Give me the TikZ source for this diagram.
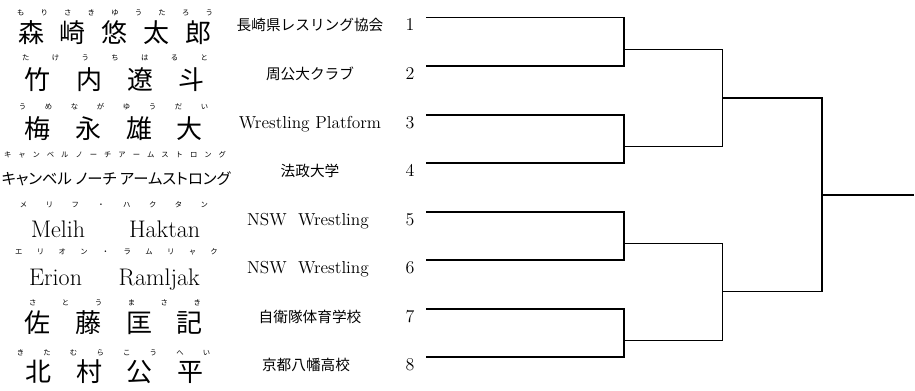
\documentclass[tikz,border=0pt]{standalone}
\usepackage{fontspec}
\newfontfamily\jpfont{Noto Sans CJK JP}
\newfontfamily\jpprop[RawFeature=+palt]{Noto Sans CJK JP}

% spread the letters of #2 over a box of width #1
\newcommand\spread[2]{\makebox[#1][s]{\spreadloop#2\relax}}
\def\spreadloop#1#2{#1\ifx\relax#2\expandafter\spreadgobble\else\hfill\expandafter\spreadloop\fi#2}
\def\spreadgobble#1{}

\begin{document}
\begin{tikzpicture}[
    x = 0.75pt, % one pixel
    y = -0.75pt,
    line width = 1pt, % bracket lines
    inner sep = 0pt
    ]

    \tikzset{
    ruby/.style = {font=\jpfont\fontsize{5.5}{6}\selectfont},
    kanji/.style = {font=\jpfont\fontsize{19.5}{22}\selectfont},
    kana/.style = {font=\jpprop\fontsize{11.5}{13}\selectfont},
    latin/.style = {font=\fontsize{18}{21}\selectfont, anchor=base},
    team/.style = {font=\jpfont\fontsize{11}{13}\selectfont, anchor=base},
    teamlatin/.style = {font=\fontsize{13}{15}\selectfont, anchor=base},
    seed/.style = {font=\fontsize{13.5}{15}\selectfont, anchor=base}
    }
    \useasboundingbox (0,0) rectangle (915,390);

    % players
    \node[ruby] (r1) at (115,13) {\spread{147pt}{もりさきゆうたろう}};
    \node[kanji] (p1) at (115,33) {\spread{145.5pt}{森崎悠太郎}};
    \node[ruby] (r2) at (115,58) {\spread{139.5pt}{たけうちはると}};
    \node[kanji] (p2) at (115,80) {\spread{135pt}{竹内遼斗}};
    \node[ruby] (r3) at (113.5,107) {\spread{142pt}{うめながゆうだい}};
    \node[kanji] (p3) at (114,129) {\spread{133.5pt}{梅永雄大}};
    \node[ruby] (r4) at (115,155) {\spread{166.5pt}{キャンベルノーチアームストロング}};
    \node[kana] (p4) at (116,179) {キャンベル ノーチ アームストロング};
    \node[ruby] (r5) at (114,205) {\spread{141pt}{メリフ・ハクタン}};
    \node[latin] (p5) at (115.5,237) {\makebox[127pt][s]{Melih\hfill Haktan}};
    \node[ruby] (r6) at (116.5,252) {\spread{152pt}{エリオン・ラムリャク}};
    \node[latin] (p6) at (114.5,285) {\makebox[128pt][s]{Erion\hfill Ramljak}};
    \node[ruby] (r7) at (115,303) {\spread{129pt}{さとうまさき}};
    \node[kanji] (p7) at (114,323) {\spread{133.5pt}{佐藤匡記}};
    \node[ruby] (r8) at (113.5,353) {\spread{145pt}{きたむらこうへい}};
    \node[kanji] (p8) at (114.5,372) {\spread{133pt}{北村公平}};

    % teams and seeds
    \node[team] (c1) at (310,30.7) {長崎県レスリング協会};
    \node[seed] (n1) at (410,30.7) {1};
    \node[team] (c2) at (310,79) {周公大クラブ};
    \node[seed] (n2) at (410,79) {2};
    \node[teamlatin] (c3) at (310,128) {Wrestling Platform};
    \node[seed] (n3) at (410,128) {3};
    \node[team] (c4) at (310,176) {法政大学};
    \node[seed] (n4) at (410,176) {4};
    \node[teamlatin] (c5) at (308,225) {NSW\ \ Wrestling};
    \node[seed] (n5) at (410,225) {5};
    \node[teamlatin] (c6) at (308,273) {NSW\ \ Wrestling};
    \node[seed] (n6) at (410,273) {6};
    \node[team] (c7) at (310,322) {自衛隊体育学校};
    \node[seed] (n7) at (410,322) {7};
    \node[team] (c8) at (306,370) {京都八幡高校};
    \node[seed] (n8) at (410,370) {8};

    % bracket
    \coordinate (s1) at (426,17.7);
    \coordinate (s2) at (426,66);
    \coordinate (s3) at (426,115);
    \coordinate (s4) at (426,163);
    \coordinate (s5) at (426,212);
    \coordinate (s6) at (426,260);
    \coordinate (s7) at (426,309);
    \coordinate (s8) at (426,357);
    \coordinate (q1) at (624,49.7);
    \coordinate (q2) at (624,146.3);
    \coordinate (q3) at (624,243.7);
    \coordinate (q4) at (624,340.7);
    \coordinate (h1) at (722.7,98);
    \coordinate (h2) at (722.7,291.7);
    \coordinate (f) at (822,195);
    \coordinate (w) at (914,195);

    \draw (s1) -| (q1) |- (s2);
    \draw (s3) -| (q2) |- (s4);
    \draw (s5) -| (q3) |- (s6);
    \draw (s7) -| (q4) |- (s8);
    \draw (q1) -| (h1) |- (q2);
    \draw (q3) -| (h2) |- (q4);
    \draw (h1) -| (f) |- (h2);
    \draw (f) -- (w);
\end{tikzpicture}
\end{document}
